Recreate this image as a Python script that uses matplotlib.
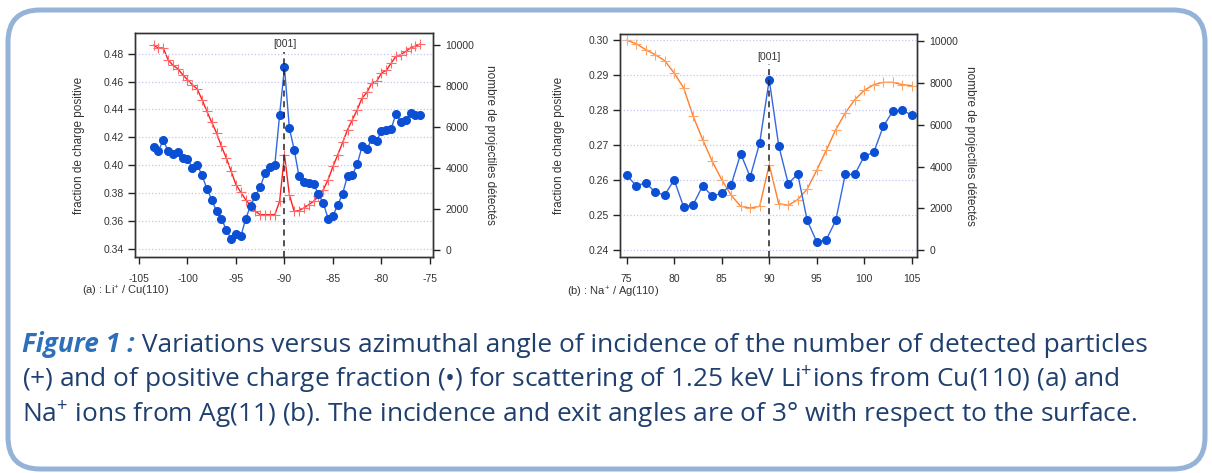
import numpy as np
import matplotlib
matplotlib.use("Agg")
import matplotlib.pyplot as plt
from matplotlib.patches import FancyBboxPatch

plt.rcParams['font.family'] = ['Liberation Sans', 'DejaVu Sans']
plt.rcParams['axes.unicode_minus'] = False
plt.rcParams['mathtext.fontset'] = 'custom'
plt.rcParams['mathtext.rm'] = 'Liberation Sans'
plt.rcParams['mathtext.it'] = 'Liberation Sans'

# (a) Li+ / Cu(110)
angle_a = [-103.5, -103.0, -102.5, -102.0, -101.5, -101.0, -100.5, -100.0,
           -99.5, -99.0, -98.5, -98.0, -97.5, -97.0, -96.5, -96.0,
           -95.5, -95.0, -94.5, -94.0, -93.5, -93.0, -92.5, -92.0,
           -91.5, -91.0, -90.5, -90.0, -89.5, -89.0, -88.5, -88.0,
           -87.5, -87.0, -86.5, -86.0, -85.5, -85.0, -84.5, -84.0,
           -83.5, -83.0, -82.5, -82.0, -81.5, -81.0, -80.5, -80.0,
           -79.5, -79.0, -78.5, -78.0, -77.5, -77.0, -76.5, -76.0]
frac_a = [0.4129, 0.4105, 0.4179, 0.4105, 0.4083, 0.4095, 0.4052, 0.4048,
          0.3981, 0.4005, 0.3928, 0.3832, 0.3754, 0.3670, 0.3617, 0.3539,
          0.3472, 0.3510, 0.3491, 0.3617, 0.3710, 0.3782, 0.3844, 0.3945,
          0.3985, 0.4000, 0.4363, 0.4702, 0.4267, 0.4112, 0.3921, 0.3880,
          0.3873, 0.3866, 0.3794, 0.3730, 0.3617, 0.3639, 0.3718, 0.3797,
          0.3926, 0.3930, 0.4009, 0.4136, 0.4117, 0.4189, 0.4177, 0.4243,
          0.4255, 0.4262, 0.4370, 0.4308, 0.4322, 0.4375, 0.4363, 0.4360]
count_a = [9984, 9854, 9854, 9285, 9008, 8846, 8553, 8309,
           8065, 7854, 7333, 6764, 6228, 5707, 5057, 4488,
           3837, 3187, 2813, 2455, 2163, 1886, 1724, 1724,
           1724, 1724, 2374, 4650, 2699, 1886, 1919, 2049,
           2211, 2374, 2618, 2943, 3431, 4081, 4650, 5252,
           5870, 6358, 6846, 7415, 7691, 8146, 8228, 8634,
           8764, 9122, 9447, 9528, 9691, 9854, 9950, 10049]

# (b) Na+ / Ag(110)
angle_b = [75, 76, 77, 78, 79, 80, 81, 82, 83, 84, 85, 86, 87, 88, 89, 90,
           91, 92, 93, 94, 95, 96, 97, 98, 99, 100, 101, 102, 103, 104, 105]
frac_b = [0.2614, 0.2584, 0.2592, 0.2566, 0.2557, 0.2601, 0.2523, 0.2530,
          0.2584, 0.2554, 0.2563, 0.2587, 0.2675, 0.2609, 0.2706, 0.2886,
          0.2698, 0.2590, 0.2617, 0.2485, 0.2424, 0.2430, 0.2485, 0.2616,
          0.2616, 0.2668, 0.2679, 0.2753, 0.2796, 0.2799, 0.2785]
count_b = [10032, 9873, 9586, 9347, 9061, 8471, 7755, 6401,
           5287, 4252, 3376, 2627, 2102, 2022, 2102, 4092,
           2229, 2150, 2420, 2930, 3822, 4777, 5764, 6561,
           7197, 7643, 7914, 8025, 8025, 7914, 7866]

W, H = 1212, 473
fig = plt.figure(figsize=(W / 100, H / 100), dpi=100)

# rounded frame around the whole figure
frame = FancyBboxPatch((8, H - 469), 1197, 459,
                       boxstyle="round,pad=0,rounding_size=32",
                       fill=False, edgecolor='#95b3d7', linewidth=3.6,
                       transform=None)
fig.add_artist(frame)

BLUE_LINE = '#3567e0'
BLUE_DOT = '#0b4fd4'
GRID = '#c4c4f2'
TICK_FS = 7.5
LABEL_FS = 8.5


def make_panel(rect, angle, frac, count, xlim, ylim, y2lim, xticks, yticks,
               cnt_color, cnt_marker_color, tag, label_x, label2_x, tag_y,
               vline_top, mark_y):
    ax = fig.add_axes(rect)
    ax2 = ax.twinx()
    ax.set_zorder(ax2.get_zorder() + 1)
    ax.patch.set_visible(False)

    ax2.plot(angle, count, '-', color=cnt_color, lw=1.0, marker='+',
             ms=6.5, mew=0.8, mec=cnt_marker_color)
    ax.plot(angle, frac, '-', color=BLUE_LINE, lw=1.0, marker='o', ms=5.5,
            mfc=BLUE_DOT, mec=BLUE_DOT)

    ax.set_xlim(*xlim)
    ax.set_ylim(*ylim)
    ax2.set_ylim(*y2lim)
    ax.set_xticks(xticks)
    ax.set_yticks(yticks)
    ax2.set_yticks([0, 2000, 4000, 6000, 8000, 10000])
    ax.yaxis.set_major_formatter(matplotlib.ticker.FormatStrFormatter('%.2f'))

    ax.grid(axis='y', color=GRID, linestyle=':', linewidth=0.9)
    ax.tick_params(axis='both', labelsize=TICK_FS, direction='out', length=5,
                   width=1.0, color='#222222', labelcolor='#333333')
    ax.tick_params(axis='x', pad=7)
    ax.tick_params(axis='y', pad=3)
    ax2.tick_params(axis='y', labelsize=TICK_FS, direction='out', length=5,
                    width=1.0, color='#222222', labelcolor='#333333', pad=4)
    for a in (ax, ax2):
        for s in a.spines.values():
            s.set_color('#333333')
            s.set_linewidth(1.0)

    ax.set_ylabel('fraction de charge positive', fontsize=LABEL_FS,
                  color='#333333')
    ax.yaxis.set_label_coords(label_x, 0.5)
    ax2.set_ylabel('nombre de projectiles détectés', fontsize=LABEL_FS,
                   color='#333333', rotation=-90, va='center')
    ax2.yaxis.set_label_coords(label2_x, 0.5)

    x001 = 90 if angle[0] > 0 else -90
    ax.axvline(x001, ymin=0, ymax=vline_top,
               color='#222222', lw=1.1, ls=(0, (4, 3)))
    ax.text(x001, mark_y, '[001]',
            transform=ax.get_xaxis_transform(), ha='center', va='center',
            fontsize=TICK_FS, color='#333333')
    ax.text(-0.178, tag_y, tag, transform=ax.transAxes, ha='left',
            va='center', fontsize=8, color='#333333')
    return ax


make_panel([135 / W, (H - 257) / H, 298 / W, 224 / H],
           angle_a, frac_a, count_a,
           (-105.41, -74.69), (0.3343, 0.4948), (-341, 10585),
           [-105, -100, -95, -90, -85, -80, -75],
           [0.34, 0.36, 0.38, 0.40, 0.42, 0.44, 0.46, 0.48],
           '#ff2020', '#ff6a6a', '(a) : Li$^{+}$ / Cu(110)',
           -0.168, 1.191, -0.156, 0.915, 0.951)

make_panel([620 / W, (H - 257) / H, 297 / W, 223 / H],
           angle_b, frac_b, count_b,
           (74.3, 105.55), (0.2381, 0.3016), (-320, 10334),
           [75, 80, 85, 90, 95, 100, 105],
           [0.24, 0.25, 0.26, 0.27, 0.28, 0.29, 0.30],
           '#ff7f2a', '#ffa566', '(b) : Na$^{+}$ / Ag(110)',
           -0.185, 1.178, -0.161, 0.865, 0.897)

# caption
CAP_FONT = 'Open Sans'
plt.rcParams['mathtext.rm'] = CAP_FONT
plt.rcParams['mathtext.it'] = CAP_FONT
CAP_FS = 18.9
HEAD = '#2f6fba'
BODY = '#1f3f6e'
renderer = fig.canvas.get_renderer()
y1 = 1 - 352 / H
t1 = fig.text(22 / W, y1, 'Figure 1 :', fontsize=CAP_FS, family=CAP_FONT,
              weight='bold', style='italic', color=HEAD, va='baseline')
w1 = t1.get_window_extent(renderer).width
fig.text((22 + w1) / W, y1,
         ' Variations versus azimuthal angle of incidence of the number of detected particles',
         fontsize=CAP_FS, family=CAP_FONT, color=BODY, va='baseline')
fig.text(22 / W, 1 - 387 / H,
         '(+) and of positive charge fraction (•) for scattering of 1.25 keV Li$^{+}$ions from Cu(110) (a) and',
         fontsize=CAP_FS, family=CAP_FONT, color=BODY, va='baseline')
fig.text(22 / W, 1 - 422 / H,
         'Na$^{+}$ ions from Ag(11) (b). The incidence and exit angles are of 3° with respect to the surface.',
         fontsize=CAP_FS, family=CAP_FONT, color=BODY, va='baseline')

fig.savefig('out.png', dpi=100)
